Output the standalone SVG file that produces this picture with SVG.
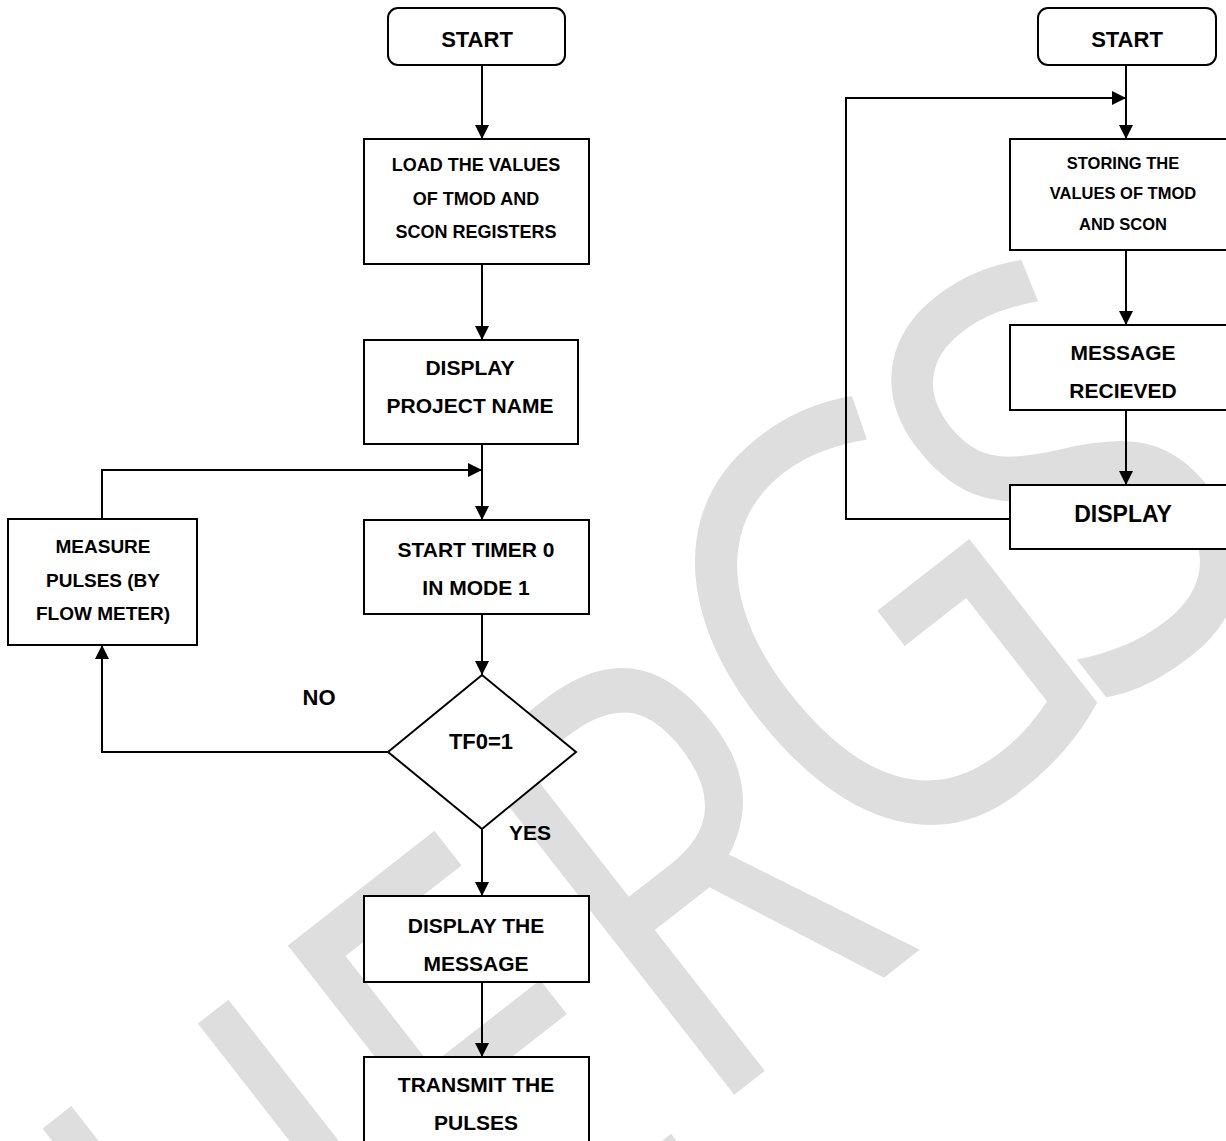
<svg xmlns="http://www.w3.org/2000/svg" width="1226" height="1141" viewBox="0 0 1226 1141">
<style>
.box{fill:#fff;stroke:#000;stroke-width:2}
.t{font-family:"Liberation Sans",Arial,sans-serif;font-weight:bold;fill:#000;text-anchor:middle}
.c{fill:none;stroke:#000;stroke-width:2}
.wm{font-family:"Open Sans","DejaVu Sans",sans-serif;font-size:600px;font-weight:400;fill:#dedede;text-anchor:middle}
</style>
<defs>
<marker id="ah" markerUnits="userSpaceOnUse" markerWidth="14" markerHeight="14" viewBox="0 0 14 14" refX="14" refY="7" orient="auto">
<path d="M0,0 L14,7 L0,14 Z" fill="#000"/>
</marker>
</defs>
<rect width="1226" height="1141" fill="#fff"/>
<g id="watermark">
<text class="wm" transform="translate(232,1524) rotate(-38) scale(0.78,1)">N</text>
<text class="wm" transform="translate(477,1349) rotate(-38) scale(0.78,1)">I</text>
<text class="wm" transform="translate(618,1231) rotate(-38) scale(0.78,1)">E</text>
<text class="wm" transform="translate(812,1034) rotate(-38) scale(0.78,1)">R</text>
<text class="wm" font-size="575" transform="translate(1001,799) rotate(-38) scale(0.78,1)">G</text>
<text class="wm" transform="translate(1197,644) rotate(-38) scale(0.78,1)">S</text>
</g>
<g id="connectors">
<line class="c" x1="482" y1="65" x2="482" y2="139" marker-end="url(#ah)"/>
<line class="c" x1="482" y1="264" x2="482" y2="340" marker-end="url(#ah)"/>
<line class="c" x1="482" y1="444" x2="482" y2="520" marker-end="url(#ah)"/>
<path class="c" d="M102,519 V470 H482" marker-end="url(#ah)"/>
<line class="c" x1="482" y1="614" x2="482" y2="675" marker-end="url(#ah)"/>
<path class="c" d="M388,752 H102 V645" marker-end="url(#ah)"/>
<line class="c" x1="482" y1="829" x2="482" y2="896" marker-end="url(#ah)"/>
<line class="c" x1="482" y1="982" x2="482" y2="1057" marker-end="url(#ah)"/>
<line class="c" x1="1126" y1="65" x2="1126" y2="139" marker-end="url(#ah)"/>
<line class="c" x1="1126" y1="250" x2="1126" y2="325" marker-end="url(#ah)"/>
<line class="c" x1="1126" y1="410" x2="1126" y2="485" marker-end="url(#ah)"/>
<path class="c" d="M1010,519 H846 V98 H1126" marker-end="url(#ah)"/>
</g>
<g id="start1">
<rect class="box" x="388" y="8" width="177" height="57" rx="10"/>
<text class="t" x="477" y="47" font-size="22">START</text>
</g>
<g id="load">
<rect class="box" x="364" y="139" width="225" height="125"/>
<text class="t" font-size="18"><tspan x="476" y="171">LOAD THE VALUES</tspan><tspan x="476" y="205">OF TMOD AND</tspan><tspan x="476" y="238">SCON REGISTERS</tspan></text>
</g>
<g id="display1">
<rect class="box" x="364" y="340" width="214" height="104"/>
<text class="t" font-size="21"><tspan x="470" y="375">DISPLAY</tspan><tspan x="470" y="413">PROJECT NAME</tspan></text>
</g>
<g id="timer">
<rect class="box" x="364" y="520" width="225" height="94"/>
<text class="t" font-size="21"><tspan x="476" y="557">START TIMER 0</tspan><tspan x="476" y="595">IN MODE 1</tspan></text>
</g>
<g id="measure">
<rect class="box" x="8" y="519" width="189" height="126"/>
<text class="t" font-size="19"><tspan x="103" y="553">MEASURE</tspan><tspan x="103" y="587">PULSES (BY</tspan><tspan x="103" y="620">FLOW METER)</tspan></text>
</g>
<g id="decision">
<polygon class="box" points="482,675 576,752 482,829 388,752"/>
<text class="t" x="481" y="749" font-size="22">TF0=1</text>
</g>
<g id="labels">
<text class="t" x="319" y="705" font-size="22">NO</text>
<text class="t" x="530" y="840" font-size="21">YES</text>
</g>
<g id="dispmsg">
<rect class="box" x="364" y="896" width="225" height="86"/>
<text class="t" font-size="21"><tspan x="476" y="933">DISPLAY THE</tspan><tspan x="476" y="971">MESSAGE</tspan></text>
</g>
<g id="transmit">
<rect class="box" x="364" y="1057" width="225" height="100"/>
<text class="t" font-size="21"><tspan x="476" y="1092">TRANSMIT THE</tspan><tspan x="476" y="1130">PULSES</tspan></text>
</g>
<g id="start2">
<rect class="box" x="1038" y="8" width="178" height="57" rx="10"/>
<text class="t" x="1127" y="47" font-size="22">START</text>
</g>
<g id="storing">
<rect class="box" x="1010" y="139" width="240" height="111"/>
<text class="t" font-size="16.5"><tspan x="1123" y="169">STORING THE</tspan><tspan x="1123" y="199">VALUES OF TMOD</tspan><tspan x="1123" y="230">AND SCON</tspan></text>
</g>
<g id="received">
<rect class="box" x="1010" y="325" width="240" height="85"/>
<text class="t" font-size="21"><tspan x="1123" y="360">MESSAGE</tspan><tspan x="1123" y="398">RECIEVED</tspan></text>
</g>
<g id="display2">
<rect class="box" x="1010" y="485" width="240" height="64"/>
<text class="t" x="1123" y="522" font-size="23">DISPLAY</text>
</g>
</svg>
